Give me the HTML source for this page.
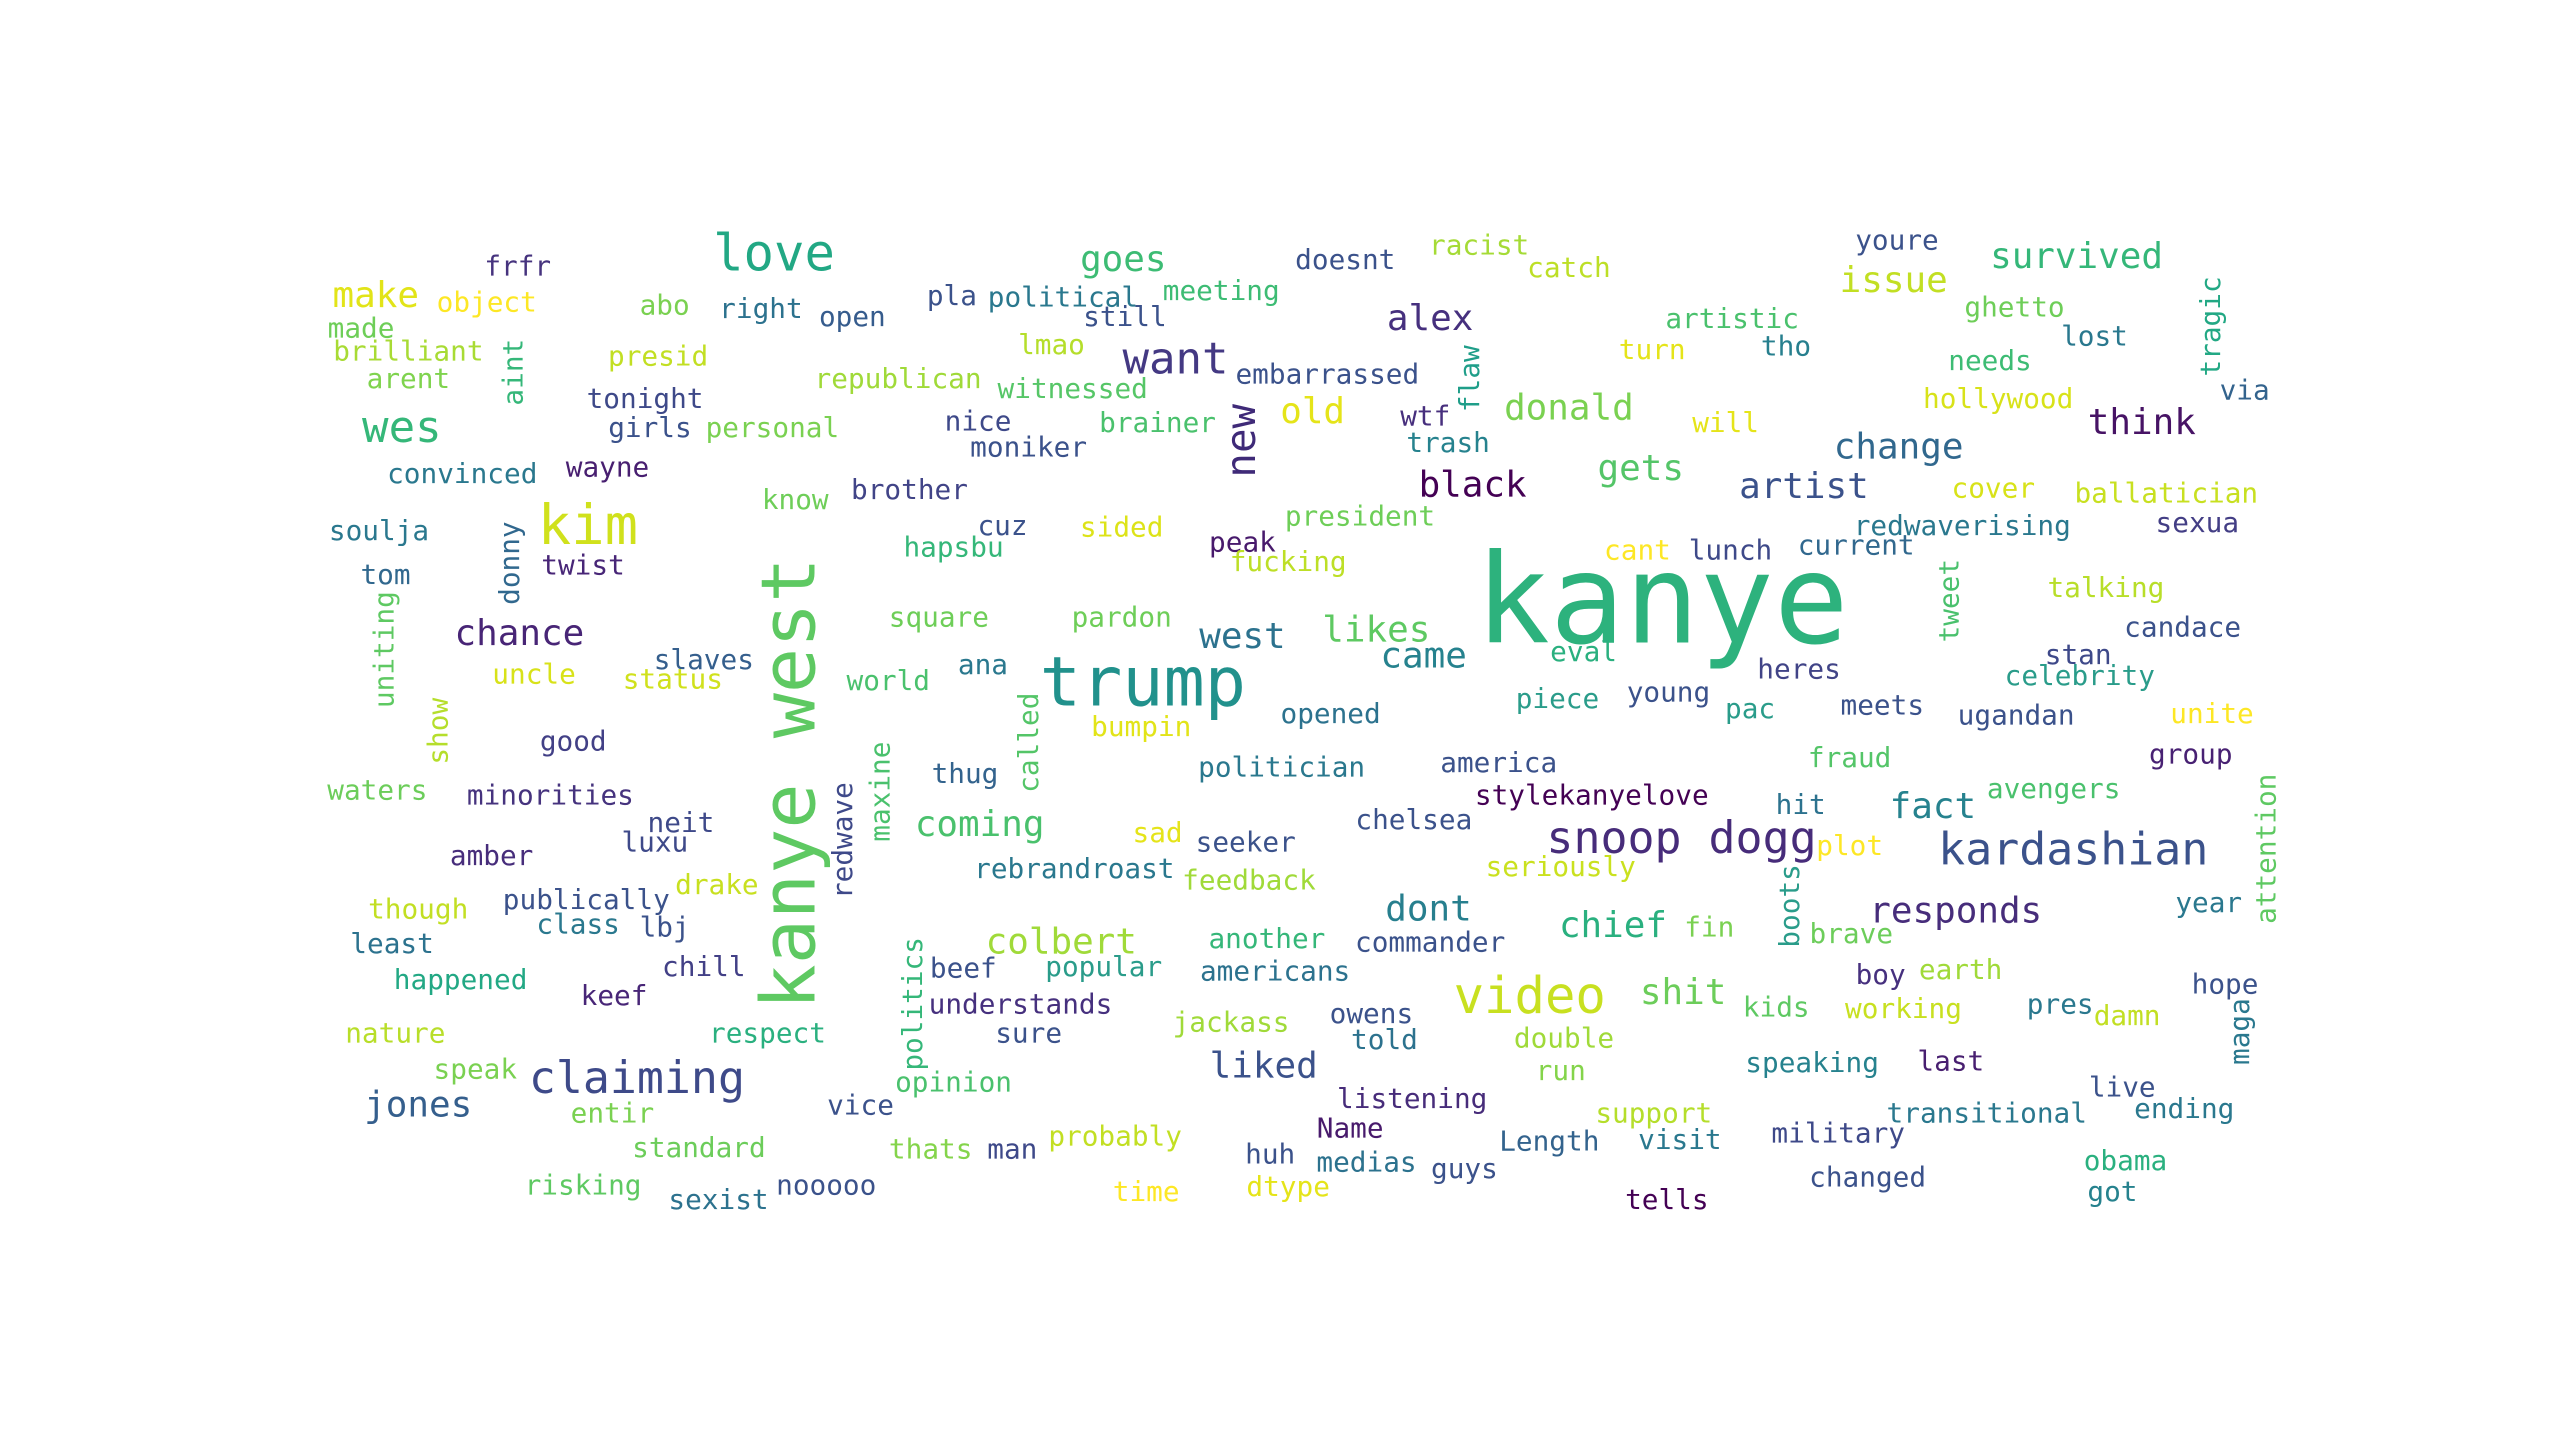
<!DOCTYPE html>
<html><head><meta charset="utf-8"><style>
html,body{margin:0;padding:0;background:#fff;width:2560px;height:1438px;overflow:hidden}
svg text{font-family:"DejaVu Sans Mono","Liberation Mono",monospace}
</style></head><body>
<svg id="cloud" width="2560" height="1438" viewBox="0 0 1568 881" xmlns="http://www.w3.org/2000/svg">
<rect width="1568" height="881" fill="#fff"/>
</svg>
<script>
// [word, centerX, centerY, fontSize, color, vertical]
const bigWords = [
["kanye",1018,368,76,"#2db27d",0],["kanye west",483,480,46,"#5ec962",1],["trump",700,418,42,"#21918c",0],
["love",474,155,31,"#22a884",0],["kim",360,322,34,"#d0e11c",0],["snoop dogg",1030,513,27.5,"#472c7a",0],
["kardashian",1270,520,27.5,"#3b528b",0],["video",937,610,31,"#c8e020",0],["claiming",390,660,27.5,"#3e4a89",0],
["wes",246,262,27,"#35b779",0],["want",720,220,27,"#443983",0],["new",760,270,25,"#3f2a78",1]
];
const midWords = [
["goes",688,159,"#3dbc74"],["alex",876,195,"#46307e"],["old",804,252,"#e5e419"],["donald",961,250,"#7ad151"],
["black",902,297,"#440154"],["gets",1005,287,"#54c568"],["artist",1105,298,"#3b528b"],["change",1163,274,"#31688e"],
["think",1312,259,"#471365"],["issue",1160,172,"#c2df23"],["survived",1272,157,"#35b779"],["make",230,181,"#e2e418"],
["chance",318,388,"#482576"],["west",761,390,"#2c728e"],["likes",843,386,"#5ec962"],["came",872,402,"#26828e"],
["fact",1184,494,"#26828e"],["coming",600,505,"#4ac16d"],["dont",875,557,"#277f8e"],["chief",988,567,"#2ab07f"],
["responds",1198,558,"#472d7b"],["colbert",650,577,"#a0da39"],["shit",1031,608,"#6ccd5a"],["liked",774,653,"#3b528b"],
["jones",256,677,"#355f8d"]
];
const smallWords = [
["frfr",317,163,"#46337e",0],["object",298,185,"#fde725",0],["abo",407,187,"#7ad151",0],["right",466,189,"#2c728e",0],
["open",522,194,"#365c8d",0],["pla",583,181,"#3b528b",0],["political",651,182,"#2a788e",0],["still",689,194,"#3b528b",0],
["meeting",748,178,"#3dbc74",0],["doesnt",824,159,"#3b528b",0],["racist",906,150,"#a5db36",0],["catch",961,164,"#bddf26",0],
["youre",1162,147,"#3b528b",0],["artistic",1061,195,"#4ac16d",0],["ghetto",1234,188,"#6ece58",0],["tragic",1354,200,"#22a884",1],
["lost",1283,206,"#2a788e",0],["tho",1094,212,"#277f8e",0],["turn",1012,214,"#e5e419",0],["needs",1219,221,"#3dbc74",0],
["flaw",900,232,"#1f9e89",1],["via",1375,239,"#33638d",0],["made",221,201,"#6ece58",0],["brilliant",250,215,"#a8db34",0],
["presid",403,218,"#c2df23",0],["lmao",644,211,"#b5de2b",0],["aint",314,228,"#35b779",1],["arent",250,232,"#7fd34e",0],
["embarrassed",813,229,"#3b528b",0],["tonight",395,244,"#3e4989",0],["republican",550,232,"#a0da39",0],["witnessed",657,238,"#56c667",0],
["wtf",873,255,"#472f7d",0],["hollywood",1224,244,"#d8e219",0],["girls",398,262,"#3b528b",0],["personal",473,262,"#7ad151",0],
["nice",599,258,"#3e4989",0],["moniker",630,274,"#3b528b",0],["brainer",709,259,"#4ac16d",0],["trash",887,271,"#26828e",0],
["will",1057,259,"#e5e419",0],["convinced",283,290,"#2a788e",0],["wayne",372,286,"#481f70",0],["know",487,306,"#6ece58",0],
["brother",557,300,"#414487",0],["cover",1221,299,"#d8e219",0],["ballatician",1327,302,"#c8e020",0],["soulja",232,325,"#2a788e",0],
["donny",312,345,"#31688e",1],["president",833,316,"#6ece58",0],["sided",687,323,"#dde318",0],["cuz",614,322,"#3b528b",0],
["hapsbu",584,335,"#35b779",0],["peak",761,332,"#481a6c",0],["fucking",789,344,"#bddf26",0],["cant",1003,337,"#fde725",0],
["lunch",1060,337,"#3e4989",0],["current",1137,334,"#31688e",0],["redwaverising",1202,322,"#2a788e",0],["sexua",1346,320,"#433e85",0],
["tom",236,352,"#31688e",0],["twist",357,346,"#482677",0],["tweet",1194,368,"#4ac16d",1],["talking",1290,360,"#b8de29",0],
["uniting",235,398,"#5ec962",1],["square",575,378,"#6ece58",0],["pardon",687,378,"#6ece58",0],["candace",1337,384,"#3b528b",0],
["slaves",431,404,"#355f8d",0],["uncle",327,413,"#d8e219",0],["status",412,416,"#d0e11c",0],["world",544,417,"#4ac16d",0],
["ana",602,407,"#2a788e",0],["eval",970,399,"#2ab07f",0],["heres",1102,410,"#414487",0],["stan",1273,401,"#3e4989",0],
["celebrity",1274,414,"#2a9c8a",0],["called",630,455,"#54c568",1],["bumpin",699,445,"#e2e418",0],["opened",815,437,"#2c728e",0],
["piece",954,428,"#2a9c8a",0],["young",1022,424,"#3b528b",0],["pac",1072,434,"#2a9c8a",0],["meets",1153,432,"#3b528b",0],
["ugandan",1235,438,"#3b528b",0],["unite",1355,437,"#fde725",0],["show",268,448,"#b5de2b",1],["good",351,454,"#424086",0],
["thug",591,474,"#33638d",0],["politician",785,470,"#2a788e",0],["america",918,467,"#3b528b",0],["fraud",1133,464,"#54c568",0],
["group",1342,462,"#482173",0],["waters",231,484,"#6ccd5a",0],["minorities",337,487,"#46337e",0],["maxine",539,485,"#4ac16d",1],
["stylekanyelove",975,487,"#440154",0],["hit",1103,493,"#2c728e",0],["avengers",1258,483,"#4ac16d",0],["attention",1388,520,"#5ec962",1],
["neit",417,504,"#3e4989",0],["redwave",516,515,"#3e4989",1],["sad",709,510,"#e5e419",0],["chelsea",866,502,"#3b528b",0],
["amber",301,524,"#472d7b",0],["luxu",401,516,"#3e4989",0],["seeker",763,516,"#3b528b",0],["plot",1133,518,"#fde725",0],
["seriously",956,531,"#cae11f",0],["rebrandroast",658,532,"#2a788e",0],["feedback",765,539,"#a0da39",0],["drake",439,542,"#c8e020",0],
["though",256,557,"#c2df23",0],["publically",359,551,"#3b528b",0],["boots",1096,555,"#2a9c8a",1],["year",1353,553,"#2a788e",0],
["class",354,566,"#2a788e",0],["lbj",407,568,"#3b528b",0],["fin",1047,568,"#7ad151",0],["brave",1134,572,"#6ccd5a",0],
["least",240,578,"#2c728e",0],["another",776,575,"#35b779",0],["commander",876,577,"#3b528b",0],["politics",559,615,"#35b779",1],
["chill",431,592,"#424086",0],["beef",590,593,"#3b528b",0],["popular",676,592,"#2a9c8a",0],["americans",781,595,"#2c728e",0],
["boy",1152,597,"#46307e",0],["earth",1201,594,"#a0da39",0],["happened",282,600,"#22a884",0],["hope",1363,603,"#3b528b",0],
["keef",376,610,"#482677",0],["understands",625,615,"#46307e",0],["pres",1262,615,"#2a788e",0],["kids",1088,617,"#5ec962",0],
["working",1166,618,"#c8e020",0],["damn",1303,622,"#c2df23",0],["jackass",754,626,"#a0da39",0],["owens",840,621,"#3b528b",0],
["maga",1372,632,"#2a788e",1],["nature",242,633,"#b8de29",0],["respect",470,633,"#2ab07f",0],["sure",630,633,"#3b528b",0],
["told",848,637,"#2c728e",0],["double",958,636,"#a0da39",0],["speak",291,655,"#7ad151",0],["opinion",584,663,"#4ac16d",0],
["run",956,656,"#84d44b",0],["speaking",1110,651,"#26828e",0],["last",1195,650,"#481f70",0],["live",1300,666,"#3b528b",0],
["listening",865,673,"#472c7a",0],["entir",375,682,"#7ad151",0],["vice",527,677,"#3b528b",0],["Name",827,691,"#481a6c",0],
["support",1013,682,"#b5de2b",0],["transitional",1217,682,"#2a788e",0],["ending",1338,679,"#2a788e",0],["probably",683,696,"#c2df23",0],
["Length",949,699,"#33638d",0],["visit",1029,698,"#2a788e",0],["military",1126,694,"#3e4989",0],["standard",428,703,"#6ccd5a",0],
["thats",570,704,"#84d44b",0],["man",620,704,"#3e4989",0],["huh",778,707,"#3b528b",0],["medias",837,712,"#2c728e",0],
["guys",897,716,"#3b528b",0],["obama",1302,711,"#2ab07f",0],["risking",357,726,"#5ec962",0],["sexist",440,735,"#2c728e",0],
["nooooo",506,726,"#3b528b",0],["time",702,730,"#fde725",0],["dtype",789,727,"#e5e419",0],["changed",1144,721,"#3b528b",0],
["tells",1021,735,"#440154",0],["got",1294,730,"#26828e",0]
];
const MID_SIZE = 22, SMALL_SIZE = 17;
const svg = document.getElementById('cloud');
const NS = 'http://www.w3.org/2000/svg';
function addWord(w, x, y, size, color, vert) {
  const t = document.createElementNS(NS, 'text');
  
  
  t.setAttribute('x', x);
  t.setAttribute('y', y);
  t.setAttribute('font-size', size);
  t.setAttribute('fill', color);
  t.setAttribute('text-anchor', 'middle');
  t.setAttribute('dominant-baseline', 'central');
  if (vert) t.setAttribute('transform', 'rotate(-90 ' + x + ' ' + y + ')');
  t.textContent = w;
  svg.appendChild(t);
}
bigWords.forEach(d => addWord(d[0], d[1], d[2], d[3], d[4], d[5]));
midWords.forEach(d => addWord(d[0], d[1], d[2], MID_SIZE, d[3], 0));
smallWords.forEach(d => addWord(d[0], d[1], d[2], SMALL_SIZE, d[3], d[4]));
</script>
</body></html>
